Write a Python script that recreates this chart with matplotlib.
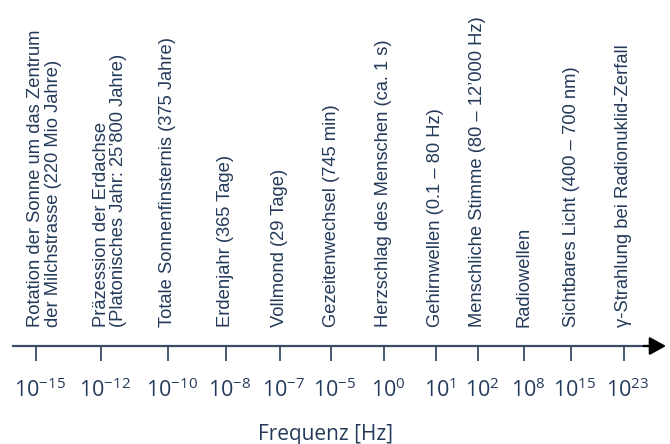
import matplotlib
matplotlib.use("Agg")
import matplotlib.pyplot as plt
from matplotlib.transforms import offset_copy, ScaledTranslation

# data: event labels, frequency exponents and their slot along the axis
labels = [
    "Rotation der Sonne um das Zentrum\nder Milchstrasse (220 Mio Jahre)",
    "Präzession der Erdachse\n(Platonisches Jahr: 25’800 Jahre)",
    "Totale Sonnenfinsternis (375 Jahre)",
    "Erdenjahr (365 Tage)",
    "Vollmond (29 Tage)",
    "Gezeitenwechsel (745 min)",
    "Herzschlag des Menschen (ca. 1 s)",
    "Gehirnwellen (0.1 – 80 Hz)",
    "Menschliche Stimme (80 – 12’000 Hz)",
    "Radiowellen",
    "Sichtbares Licht (400 – 700 nm)",
    "γ-Strahlung bei Radionuklid-Zerfall",
]
exponents = [-15, -12, -10, -8, -7, -5, 0, 1, 2, 8, 15, 23]
pos = [23, 88, 155, 213, 267, 318, 371, 423, 465, 511, 558, 611]

navy = "#243a5a"
line_col = "#3a4c66"

plt.rcParams["mathtext.fontset"] = "custom"
plt.rcParams["mathtext.rm"] = "Open Sans"
plt.rcParams["mathtext.it"] = "Open Sans:italic"
plt.rcParams["mathtext.bf"] = "Open Sans:bold"

W, H = 670, 444
fig = plt.figure(figsize=(W / 100, H / 100), dpi=100)
ax = fig.add_axes([13 / W, 98 / H, (650 - 13) / W, 0.7])
ax.set_xlim(0, 637)
ax.set_ylim(0, 1)
for s in ["top", "left", "right"]:
    ax.spines[s].set_visible(False)
ax.spines["bottom"].set_color(line_col)
ax.spines["bottom"].set_linewidth(1.6)
ax.set_yticks([])

ax.set_xticks(pos)
ax.set_xticklabels([r"$10^{%d}$" % e for e in exponents],
                   fontsize=15.5, color=navy, fontfamily="Open Sans")
ax.tick_params(axis="x", direction="out", length=11, width=1.3,
               color=line_col, pad=12.5)
shift = ScaledTranslation(4 / 100, 0, fig.dpi_scale_trans)
for t in ax.get_xticklabels():
    t.set_transform(t.get_transform() + shift)

ax.set_xlabel("Frequenz [Hz]", fontsize=15, color=navy,
              fontfamily="Open Sans", labelpad=16)
ax.xaxis.label.set_x((326 - 13) / 637)

# arrow head at the right end of the axis
ax.annotate("", xy=(1.0 + 16 / 637, 0), xytext=(0.99, 0),
            xycoords="axes fraction", textcoords="axes fraction",
            arrowprops=dict(arrowstyle="-|>,head_length=1.0,head_width=0.55",
                            color="black", lw=1.6, shrinkA=0, shrinkB=0),
            annotation_clip=False)

# rotated labels, one text per line, first line centred on its tick
for x, lab in zip(pos, labels):
    for i, line in enumerate(lab.split("\n")):
        tr = offset_copy(ax.get_xaxis_transform(), fig=fig,
                         x=i * 12.3, y=14, units="points")
        ax.text(x, 0, line, transform=tr, rotation=90,
                ha="center", va="bottom", fontsize=13.2, color=navy,
                fontfamily=["Liberation Sans", "DejaVu Sans"])

fig.savefig("out.png", dpi=100)
